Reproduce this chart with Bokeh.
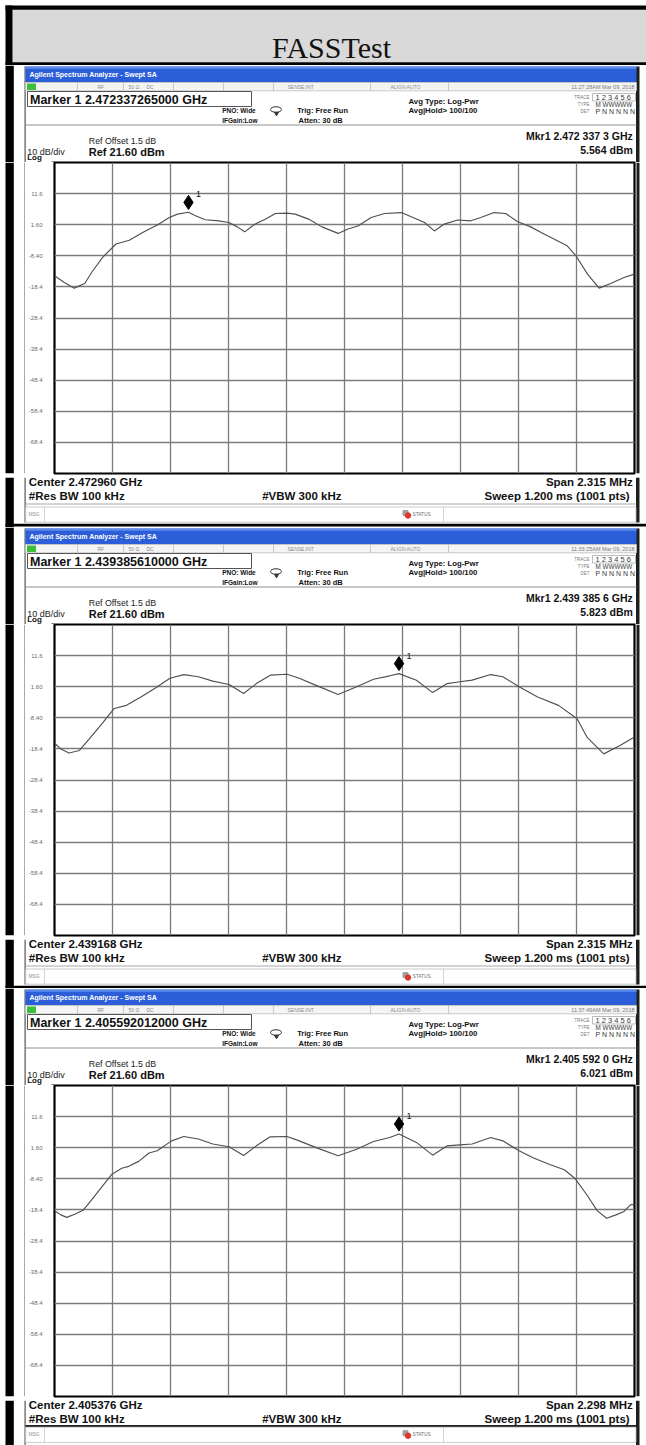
from bokeh.plotting import figure
from bokeh.layouts import column, row
from bokeh.models import Range1d, FixedTicker, Grid
from bokeh.core.properties import value
from bokeh.embed import file_html
from bokeh.resources import INLINE

# ---------------- data ----------------
header_title = "FASSTest"
title_bar = "Agilent Spectrum Analyzer - Swept SA"
time_stamps = ["11:27:28AM Mar 09, 2018", "11:33:25AM Mar 09, 2018", "11:37:49AM Mar 09, 2018"]
marker_text = ["Marker 1 2.472337265000 GHz", "Marker 1 2.439385610000 GHz", "Marker 1 2.405592012000 GHz"]
mkr_freq_text = ["Mkr1 2.472 337 3 GHz", "Mkr1 2.439 385 6 GHz", "Mkr1 2.405 592 0 GHz"]
mkr_level_text = ["5.564 dBm", "5.823 dBm", "6.021 dBm"]
center_ghz = [2.472960, 2.439168, 2.405376]
span_mhz = [2.315, 2.315, 2.298]
marker_ghz = [2.472337265, 2.439385610, 2.405592012]
marker_dbm = [5.564, 5.823, 6.021]
ref_level = 21.6
db_per_div = 10
n_div = 10
y_ticks = [11.6, 1.6, -8.4, -18.4, -28.4, -38.4, -48.4, -58.4, -68.4]
y_tick_labels = ["11.6", "1.60", "-8.40", "-18.4", "-28.4", "-38.4", "-48.4", "-58.4", "-68.4"]

# trace positions in graticule divisions (0..10) and levels in dBm
trace1_div = [0.00, 0.17, 0.34, 0.52, 0.66, 0.83, 1.06, 1.29, 1.52, 1.78, 1.98, 2.12, 2.31, 2.43, 2.60,
              2.83, 3.01, 3.15, 3.28, 3.44, 3.64, 3.81, 4.01, 4.15, 4.38, 4.61, 4.89, 5.06, 5.23, 5.46,
              5.69, 5.98, 6.18, 6.38, 6.55, 6.72, 6.95, 7.18, 7.35, 7.58, 7.78, 7.98, 8.21, 8.44, 8.61,
              8.84, 8.99, 9.19, 9.39, 9.59, 9.82, 10.0]
trace1_dbm = [-14.8, -17.0, -18.8, -17.3, -13.2, -8.9, -4.6, -3.4, -0.9, 1.6, 3.9, 5.0, 5.6, 4.5, 3.2,
              2.85, 2.3, 0.9, -0.7, 1.6, 3.4, 5.2, 5.3, 5.0, 3.4, 0.9, -1.2, 0.2, 1.2, 3.9,
              5.2, 5.5, 3.9, 2.3, -0.4, 1.8, 3.1, 2.85, 3.9, 5.5, 5.2, 2.6, 0.9, -1.4, -3.0,
              -5.2, -8.4, -14.3, -18.8, -17.3, -15.4, -14.3]
trace2_div = [0.00, 0.11, 0.25, 0.43, 0.60, 0.82, 1.03, 1.24, 1.49, 1.74, 1.99, 2.23, 2.48, 2.73, 3.01,
              3.26, 3.48, 3.72, 4.01, 4.22, 4.50, 4.89, 5.21, 5.50, 5.78, 5.94, 6.24, 6.52, 6.77, 6.99,
              7.20, 7.52, 7.73, 8.01, 8.33, 8.69, 9.01, 9.18, 9.47, 9.75, 10.0]
trace2_dbm = [-16.6, -18.4, -19.7, -18.9, -15.2, -10.3, -5.4, -4.4, -1.7, 1.2, 4.3, 5.5, 4.8, 3.4, 2.3,
              -0.6, 2.6, 5.3, 5.6, 4.3, 2.1, -0.9, 1.6, 4.0, 5.1, 5.8, 3.7, -0.3, 2.6, 3.2,
              3.7, 5.5, 4.8, 1.6, -1.7, -4.4, -8.7, -14.6, -20.0, -17.3, -14.6]
trace3_div = [0.00, 0.11, 0.21, 0.35, 0.50, 0.64, 0.82, 0.99, 1.16, 1.28, 1.45, 1.63, 1.77, 2.02, 2.23,
              2.48, 2.73, 3.01, 3.26, 3.48, 3.72, 4.01, 4.22, 4.50, 4.89, 5.21, 5.50, 5.78, 5.94, 6.24,
              6.52, 6.77, 6.99, 7.20, 7.52, 7.73, 8.01, 8.26, 8.55, 8.79, 8.97, 9.18, 9.36, 9.52, 9.68,
              9.82, 9.93, 10.0]
trace3_dbm = [-18.7, -20.0, -20.8, -19.8, -18.4, -15.2, -10.9, -6.9, -5.0, -4.4, -2.8, -0.1, 0.6, 3.8, 5.2,
              4.4, 2.8, 1.9, -0.9, 2.2, 5.1, 5.2, 3.8, 1.7, -1.0, 1.1, 3.6, 4.9, 6.0, 3.3,
              -0.8, 2.2, 2.5, 2.8, 4.9, 3.8, 0.6, -1.7, -3.9, -5.5, -8.2, -13.6, -18.7, -21.1, -20.0,
              -18.9, -16.8, -16.6]
traces_div = [trace1_div, trace2_div, trace3_div]
traces_dbm = [trace1_dbm, trace2_dbm, trace3_dbm]

# ---------------- layout constants (page pixels) ----------------
SANS = "Liberation Sans"
SERIF = "Liberation Serif"
FIG_W = 646
HEADER_H = 65
PANEL_H = [462, 461, 457]
TOP_H = 97
MID_H = 315
LEFT_W = 25
SPEC_W = 611
RIGHT_W = FIG_W - LEFT_W - SPEC_W
TXT = "#111111"


def pix_fig(x0, y0, w, h):
    p = figure(width=w, height=h, x_range=Range1d(x0, x0 + w), y_range=Range1d(y0 + h, y0),
               x_axis_location=None, y_axis_location=None, toolbar_location=None,
               output_backend="svg", min_border=0)
    p.center = [r for r in p.center if not isinstance(r, Grid)]
    p.outline_line_color = None
    p.background_fill_color = "white"
    p.border_fill_color = "white"
    return p


def txt(p, x, y, s, size, color=TXT, bold=False, align="left", font=SANS, baseline="middle"):
    p.text(x=[x], y=[y], text=[s], text_font=value(font), text_font_size=f"{size}px",
           text_color=color, text_font_style="bold" if bold else "normal",
           text_align=align, text_baseline=baseline)


def box(p, l, r, t, b, color):
    p.quad(left=[l], right=[r], top=[t], bottom=[b], fill_color=color, line_color=None)


def frame_sides(p, y_top, y_bot, screen_top, screen_bot):
    box(p, 5, 13.3, y_top, y_bot, "black")
    box(p, 24, 25.2, screen_top, screen_bot, "#555555")
    box(p, 635.5, 639, screen_top, screen_bot, "#1e1e1e")


def make_header():
    p = pix_fig(0, 0, FIG_W, HEADER_H)
    box(p, 12, 646, 9.3, 61.7, "#d9d9d9")
    box(p, 5, 646, 5, 9.3, "black")
    box(p, 5, 12, 5, 65, "black")
    box(p, 5, 646, 61.7, 65, "black")
    txt(p, 331, 47, header_title, 30, "#111111", font=SERIF, align="center", baseline="alphabetic")
    return p


def make_top(k, T):
    p = pix_fig(0, T, FIG_W, TOP_H)
    frame_sides(p, T, T + TOP_H, T + 1, T + TOP_H)
    # title bar
    box(p, 25, 636, T + 1, T + 16.7, "#2b5ed8")
    box(p, 25, 636, T + 1, T + 3.2, "#5f8ce9")
    txt(p, 29, T + 9, title_bar, 7, "white", bold=True)
    # status row
    p.quad(left=[25], right=[636], top=[T + 17], bottom=[T + 25.3], fill_color="#f4f4f4",
           line_color="#bdbdbd", line_width=0.8)
    seps = [77, 123, 173, 223, 273, 370, 448]
    p.segment(x0=seps, y0=[T + 17] * len(seps), x1=seps, y1=[T + 25.3] * len(seps),
              line_color="#bdbdbd", line_width=0.8)
    box(p, 26.5, 35.5, T + 18, T + 24.5, "#3cbf3c")
    for xx, s in [(97, "RF"), (128, "50 \u03a9"), (146, "DC"), (287, "SENSE:INT"), (390, "ALIGN AUTO")]:
        txt(p, xx, T + 21.2, s, 5, "#8c8c8c")
    txt(p, 634, T + 21.2, time_stamps[k], 5.5, "#7a7a7a", align="right")
    # info box bottom line
    p.segment(x0=[25], y0=[T + 59.5], x1=[636], y1=[T + 59.5], line_color="#8f8f8f", line_width=1)
    # marker box
    p.quad(left=[27], right=[251], top=[T + 26], bottom=[T + 41], fill_color="white",
           line_color="#555555", line_width=1)
    txt(p, 29.5, T + 34, marker_text[k], 12.5, TXT, bold=True)
    # PNO / loop / trig / avg
    txt(p, 221.7, T + 45, "PNO: Wide", 6.5, TXT, bold=True)
    txt(p, 221.7, T + 54.5, "IFGain:Low", 6.5, TXT, bold=True)
    p.ellipse(x=[275.5], y=[T + 44], width=11, height=5.5, fill_color=None, line_color="#333333", line_width=1)
    p.scatter(x=[276], y=[T + 48], marker="inverted_triangle", size=4, color="#333333")
    txt(p, 296.7, T + 45, "Trig: Free Run", 7.5, TXT, bold=True)
    txt(p, 298, T + 55, "Atten: 30 dB", 7.5, TXT, bold=True)
    txt(p, 408, T + 35.5, "Avg Type: Log-Pwr", 7.8, TXT, bold=True)
    txt(p, 408, T + 44.5, "Avg|Hold> 100/100", 7.8, TXT, bold=True)
    # trace block
    p.quad(left=[592], right=[635], top=[T + 28], bottom=[T + 35.5], fill_color=None,
           line_color="#a8a8a8", line_width=0.8)
    txt(p, 589, T + 31.7, "TRACE", 4.5, "#7a7a7a", align="right")
    txt(p, 589, T + 39, "TYPE", 4.5, "#7a7a7a", align="right")
    txt(p, 589, T + 46.3, "DET", 4.5, "#7a7a7a", align="right")
    txt(p, 595, T + 31.7, "1 2 3 4 5 6", 7.5, "#3a3a3a")
    txt(p, 595, T + 39, "M WWWWW", 6.3, "#3a3a3a")
    txt(p, 595, T + 46.3, "P N N N N N", 7, "#3a3a3a")
    # marker readout
    txt(p, 632.3, T + 70.5, mkr_freq_text[k], 10.5, TXT, bold=True, align="right")
    txt(p, 632.3, T + 84, mkr_level_text[k], 10.5, TXT, bold=True, align="right")
    # reference info
    txt(p, 88.3, T + 75.3, "Ref Offset 1.5 dB", 8.8, "#222222")
    txt(p, 88.3, T + 86.7, f"Ref {ref_level:.2f} dBm", 11, TXT, bold=True)
    txt(p, 26.7, T + 91.2, f"{db_per_div} dB/div", 9, "#222222", baseline="bottom")
    txt(p, 26.7, T + 96.6, "Log", 8, TXT, bold=True, baseline="bottom")
    # top edge of graticule
    box(p, 51, 635, T + 96, T + 97, "black")
    return p


def make_left(T):
    y0 = T + TOP_H
    p = pix_fig(0, y0, LEFT_W, MID_H)
    frame_sides(p, y0, y0 + MID_H, y0, y0 + MID_H)
    return p


def make_right(T):
    y0 = T + TOP_H
    p = pix_fig(LEFT_W + SPEC_W, y0, RIGHT_W, MID_H)
    frame_sides(p, y0, y0 + MID_H, y0, y0 + MID_H)
    return p


def make_spec(k):
    span = span_mhz[k]
    sp = figure(width=SPEC_W, height=MID_H,
                x_range=Range1d(-span / 2, span / 2),
                y_range=Range1d(ref_level - n_div * db_per_div, ref_level),
                x_axis_location=None, y_axis_location="left", toolbar_location=None,
                output_backend="svg", min_border_left=27, min_border_right=2,
                min_border_top=0, min_border_bottom=4)
    sp.center = [r for r in sp.center if not isinstance(r, Grid)]
    sp.background_fill_color = "white"
    sp.border_fill_color = "white"
    sp.outline_line_color = "black"
    sp.outline_line_width = 2.2
    ax = sp.yaxis[0]
    ax.ticker = FixedTicker(ticks=y_ticks)
    ax.major_label_overrides = {t: l for t, l in zip(y_ticks, y_tick_labels)}
    ax.axis_line_color = None
    ax.major_tick_line_color = None
    ax.minor_tick_line_color = None
    ax.major_tick_out = 0
    ax.minor_tick_out = 0
    ax.major_label_standoff = 12
    ax.major_label_text_font = SANS
    ax.major_label_text_font_size = "6px"
    ax.major_label_text_color = "#6a6a6a"
    x_grid = [-span / 2 + i * span / n_div for i in range(1, n_div)]
    sp.add_layout(Grid(dimension=0, ticker=FixedTicker(ticks=x_grid),
                       grid_line_color="#7b7b7b", grid_line_width=1.3))
    sp.add_layout(Grid(dimension=1, ticker=FixedTicker(ticks=y_ticks),
                       grid_line_color="#7b7b7b", grid_line_width=1.3))
    xs = [(d - n_div / 2) * span / n_div for d in traces_div[k]]
    sp.line(xs, traces_dbm[k], line_color="#505050", line_width=1.15)
    mx = (marker_ghz[k] - center_ghz[k]) * 1000.0
    my = marker_dbm[k] + 3.2
    sp.scatter(x=[mx], y=[my], marker="diamond", size=14, color="black")
    sp.text(x=[mx], y=[my], text=["1"], x_offset=7.5, y_offset=-8, text_font=value(SANS),
            text_font_size="9px", text_color=TXT, text_baseline="middle")
    return sp


def make_bottom(k, T, H):
    y0 = T + TOP_H + MID_H
    h = H - TOP_H - MID_H
    p = pix_fig(0, y0, FIG_W, h)
    frame_sides(p, y0, y0 + h, y0, T + 457)
    txt(p, 28.3, T + 416.7, f"Center {center_ghz[k]:.6f} GHz", 11.5, TXT, bold=True)
    txt(p, 28.3, T + 430, "#Res BW 100 kHz", 11.5, TXT, bold=True)
    txt(p, 261.7, T + 430, "#VBW 300 kHz", 11.5, TXT, bold=True)
    txt(p, 632.3, T + 416.7, f"Span {span_mhz[k]:.3f} MHz", 11.5, TXT, bold=True, align="right")
    txt(p, 632.3, T + 430, "Sweep  1.200 ms (1001 pts)", 11.5, TXT, bold=True, align="right")
    if k == 2:
        p.segment(x0=[25], y0=[T + 437.5], x1=[636], y1=[T + 437.5], line_color="#222222", line_width=2)
        msg_top = T + 438.7
    else:
        p.segment(x0=[25], y0=[T + 438.5], x1=[636], y1=[T + 438.5], line_color="#a8a8a8", line_width=1)
        msg_top = T + 441.5
    p.quad(left=[25.2], right=[635.5], top=[msg_top], bottom=[msg_top + 15.2], fill_color="white",
           line_color="#bdbdbd", line_width=0.8)
    p.segment(x0=[44, 443], y0=[msg_top] * 2, x1=[44, 443], y1=[msg_top + 15.2] * 2,
              line_color="#c8c8c8", line_width=0.8)
    txt(p, 28, msg_top + 7.5, "MSG", 4.8, "#8c8c8c")
    p.scatter(x=[405], y=[msg_top + 6], marker="square", size=5, color="#a0a0a0")
    p.scatter(x=[407.5], y=[msg_top + 8.5], marker="circle", size=5.5, color="#d8382c")
    txt(p, 412, msg_top + 7.5, "STATUS", 4.8, "#707070")
    if k < 2:
        box(p, 5, 646, T + 458.3, T + 461, "black")
    return p


items = [make_header()]
T = HEADER_H
for k in range(3):
    items.append(make_top(k, T))
    items.append(row(make_left(T), make_spec(k), make_right(T)))
    items.append(make_bottom(k, T, PANEL_H[k]))
    T += PANEL_H[k]

layout = column(*items)
open("out.html", "w").write(file_html(layout, INLINE, title="FASSTest"))
